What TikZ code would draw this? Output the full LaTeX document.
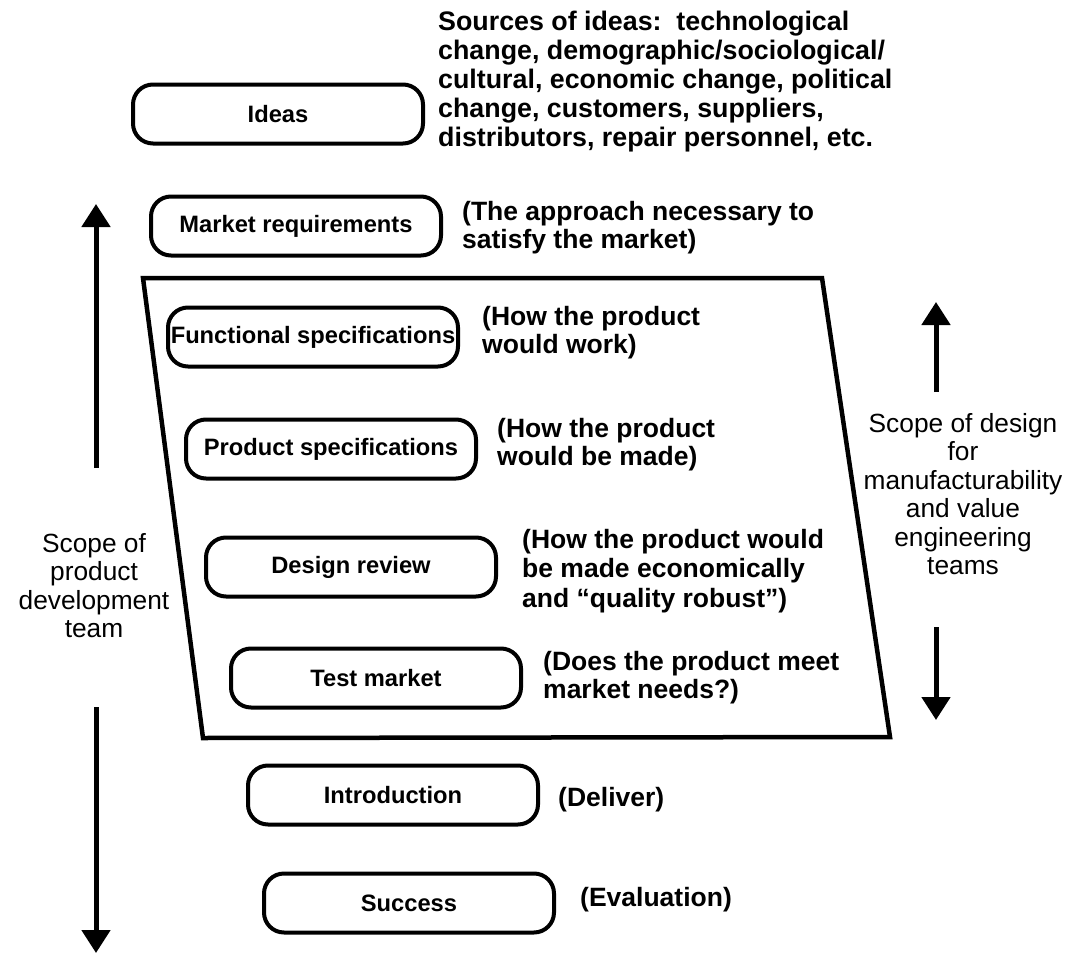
\documentclass[tikz,border=0pt]{standalone}
\usepackage{fontspec}
\setmainfont{Liberation Sans}
\usetikzlibrary{arrows.meta}
% fixed-height strut so every text block's first baseline sits a known distance below its top
\newcommand\firstline{\rule{0pt}{22pt}}
\begin{document}
\begin{tikzpicture}[x=1pt,y=-1pt,
  stagebox/.style={draw, line width=4pt, rounded corners=20pt,
    minimum width=290pt, minimum height=59pt, inner sep=0pt,
    font=\fontsize{23.7}{28}\selectfont\bfseries},
  note/.style={anchor=north west, align=left, inner sep=0pt,
    font=\fontsize{26.5}{28}\selectfont\bfseries},
  scopetext/.style={anchor=north, align=center, inner sep=0pt,
    font=\fontsize{26.3}{28.5}\selectfont},
  scopearrow/.style={line width=5pt, -{Triangle[length=23pt,width=28pt]}},
  frame/.style={line width=4.5pt, line join=miter}
]
\useasboundingbox (0,0) rectangle (1069,953);

% stages of the process
\node[stagebox] (ideas)   at (278,114) {Ideas};
\node[stagebox] (market)  at (296,226) {Market requirements};
\node[stagebox] (func)    at (313,337) {Functional specifications};
\node[stagebox] (prod)    at (331,449) {Product specifications};
\node[stagebox] (review)  at (351,567) {Design review};
\node[stagebox] (test)    at (376,678) {Test market};
\node[stagebox] (intro)   at (393,795) {Introduction};
\node[stagebox] (success) at (409,903) {Success};

% slanted frame around the design stages
\coordinate (fTL) at (143,278);
\coordinate (fTR) at (822,278);
\coordinate (fBR) at (890,737);
\coordinate (fBL) at (203,738);
\draw[frame] (fTL) -- (fTR) -- (fBR) -- (fBL) -- cycle;

% notes beside the stages
\node[note, font=\fontsize{26.8}{29}\selectfont\bfseries] (sources) at (438,8)
  {\firstline Sources of ideas:\ \ technological\\change, demographic/sociological/\\cultural, economic change, political\\change, customers, suppliers,\\distributors, repair personnel, etc.};
\node[note] (marketnote) at (462,198) {\firstline (The approach necessary to\\satisfy the market)};
\node[note] (funcnote)   at (482,303) {\firstline (How the product\\would work)};
\node[note] (prodnote)   at (497,415) {\firstline (How the product\\would be made)};
\node[note, font=\fontsize{26.5}{29.5}\selectfont\bfseries] (reviewnote) at (522,526)
  {\firstline (How the product would\\be made economically\\and ``quality robust'')};
\node[note] (testnote)   at (543,648) {\firstline (Does the product meet\\market needs?)};
\node[note] (intronote)  at (558,784) {\firstline (Deliver)};
\node[note] (successnote) at (580,884) {\firstline (Evaluation)};

% scope of the product development team
\node[scopetext] (pdteam) at (94,530) {\firstline Scope of\\product\\development\\team};
\coordinate (pdUpFrom) at (96,468);
\coordinate (pdUpTo)   at (96,204);
\coordinate (pdDnFrom) at (96,707);
\coordinate (pdDnTo)   at (96,953);
\draw[scopearrow] (pdUpFrom) -- (pdUpTo);
\draw[scopearrow] (pdDnFrom) -- (pdDnTo);

% scope of the design-for-manufacturability teams
\node[scopetext] (dfmteams) at (963,410) {\firstline Scope of design\\for\\manufacturability\\and value\\engineering\\teams};
\coordinate (dfUpFrom) at (936,392);
\coordinate (dfUpTo)   at (936,302);
\coordinate (dfDnFrom) at (936,627);
\coordinate (dfDnTo)   at (936,720);
\draw[scopearrow] (dfUpFrom) -- (dfUpTo);
\draw[scopearrow] (dfDnFrom) -- (dfDnTo);
\end{tikzpicture}
\end{document}
